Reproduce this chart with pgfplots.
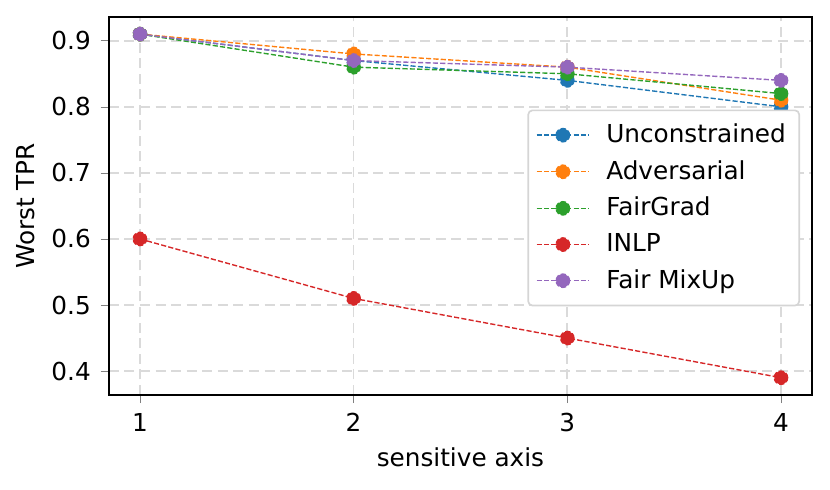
\documentclass[border=0pt]{standalone}
\usepackage{pgfplots}
\pgfplotsset{compat=1.18}
\usepackage{fontspec}
\setmainfont{DejaVu Sans}
\definecolor{tabblue}{HTML}{1F77B4}
\definecolor{taborange}{HTML}{FF7F0E}
\definecolor{tabgreen}{HTML}{2CA02C}
\definecolor{tabred}{HTML}{D62728}
\definecolor{tabpurple}{HTML}{9467BD}
\definecolor{gridgray}{HTML}{DADADA}
\definecolor{leggray}{HTML}{D5D5D5}
\begin{document}
\begin{tikzpicture}
\begin{axis}[
  scale only axis,
  width=253pt, height=136pt,
  xmin=0.855, xmax=4.145, ymin=0.364, ymax=0.936,
  xtick={1,2,3,4}, ytick={0.4,0.5,0.6,0.7,0.8,0.9},
  yticklabel style={/pgf/number format/fixed,/pgf/number format/precision=1,/pgf/number format/fixed zerofill},
  /pgf/number format/assume math mode=true,
  tick label style={font=\fontsize{8.9}{10.7}\selectfont},
  label style={font=\fontsize{8.9}{10.7}\selectfont},
  xlabel={sensitive axis}, ylabel={Worst TPR},
  xlabel style={yshift=1pt},
  ylabel style={yshift=-1pt},
  grid=major,
  major grid style={dash pattern=on 3.6pt off 2pt, gridgray, line width=0.6pt},
  tick align=outside, tick pos=left,
  major tick length=3pt,
  axis line style={line width=0.6pt},
  every axis plot/.append style={dash pattern=on 1.85pt off 0.8pt, line width=0.5pt, mark=*, mark size=2.4pt, mark options={solid}},
  legend image code/.code={\draw[mark repeat=2,mark phase=2] plot coordinates {(0cm,0cm)(0.33cm,0cm)(0.66cm,0cm)};},
  legend style={at={(0.983,0.755)}, anchor=north east, font=\fontsize{8.9}{10.7}\selectfont, draw=leggray, line width=0.6pt, fill=white, rounded corners=1.5pt, row sep=0.9pt, inner sep=2.8pt,
    /tikz/every odd column/.append style={column sep=4pt}},
  legend cell align=left,
]
\addplot[color=tabblue, mark options={fill=tabblue, draw=tabblue}] coordinates {(1,0.91) (2,0.87) (3,0.84) (4,0.80)};
\addlegendentry{Unconstrained}
\addplot[color=taborange, mark options={fill=taborange, draw=taborange}] coordinates {(1,0.91) (2,0.88) (3,0.86) (4,0.81)};
\addlegendentry{Adversarial}
\addplot[color=tabgreen, mark options={fill=tabgreen, draw=tabgreen}] coordinates {(1,0.91) (2,0.86) (3,0.85) (4,0.82)};
\addlegendentry{FairGrad}
\addplot[color=tabred, mark options={fill=tabred, draw=tabred}] coordinates {(1,0.60) (2,0.51) (3,0.45) (4,0.39)};
\addlegendentry{INLP}
\addplot[color=tabpurple, mark options={fill=tabpurple, draw=tabpurple}] coordinates {(1,0.91) (2,0.87) (3,0.86) (4,0.84)};
\addlegendentry{Fair MixUp}
\end{axis}
\pgfresetboundingbox
\path[use as bounding box] ([shift={(-39.2pt,-34.2pt)}]current axis.south west) rectangle ([shift={(6.5pt,6.1pt)}]current axis.north east);
\end{tikzpicture}
\end{document}
